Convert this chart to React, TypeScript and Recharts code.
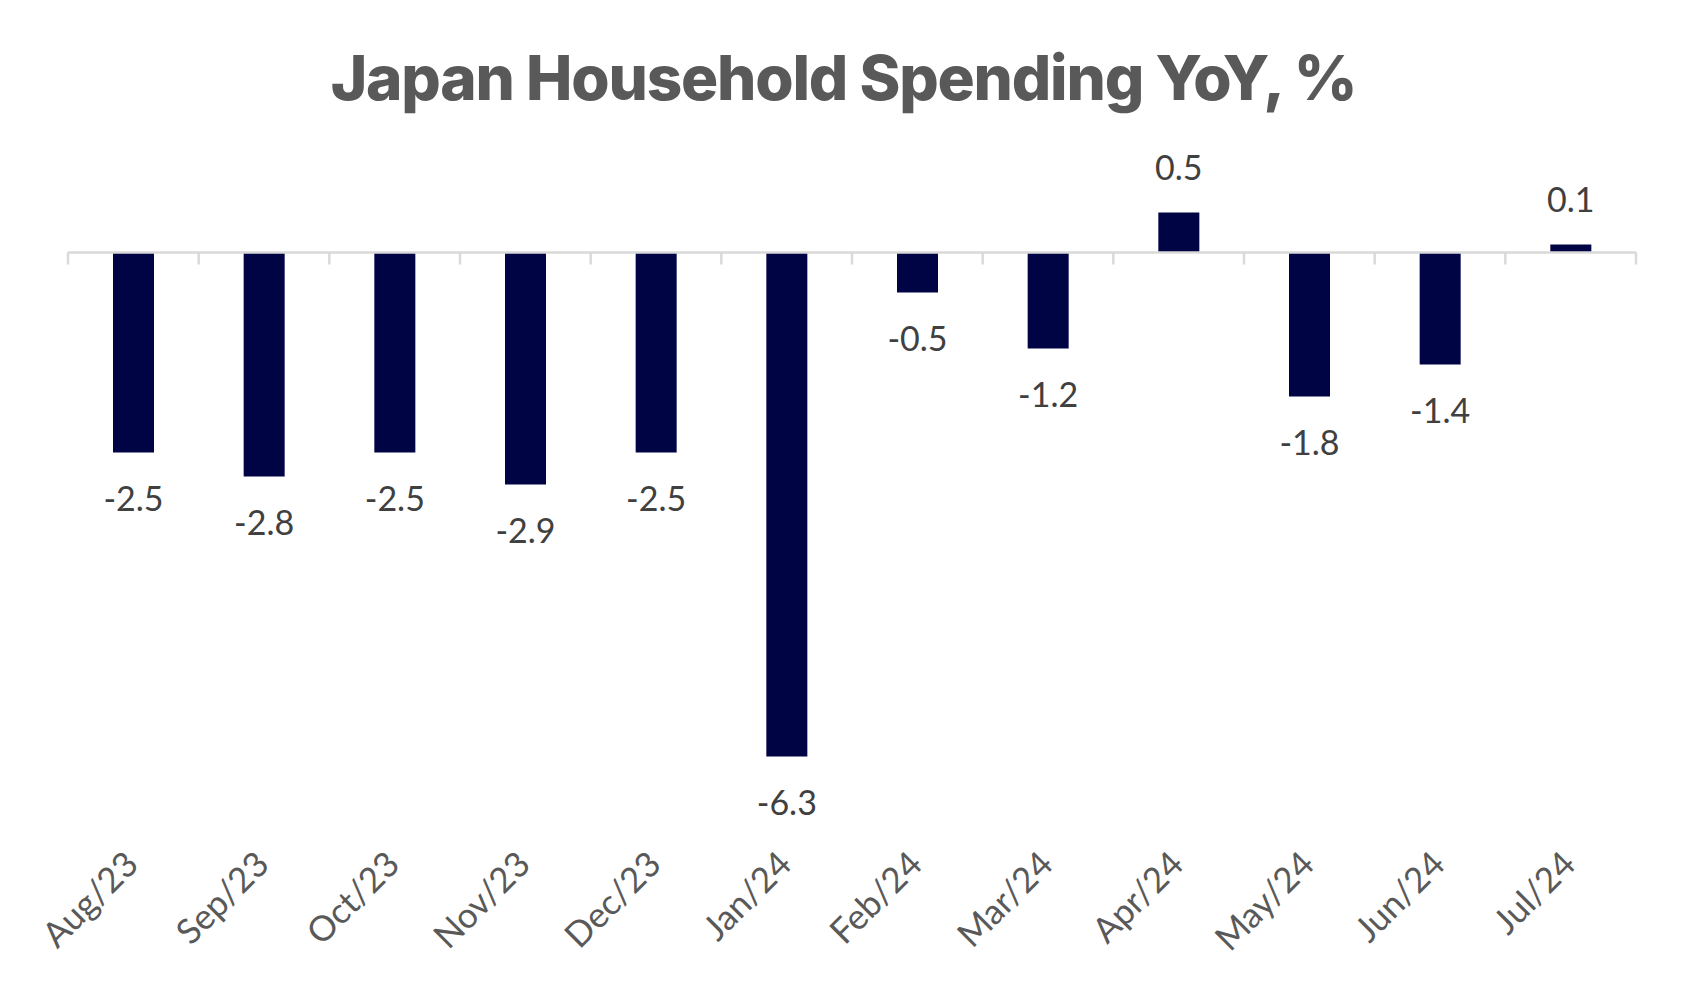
import React from "react";
import { BarChart, Bar, XAxis, YAxis, ReferenceLine, LabelList } from "recharts";

const months = ["Aug/23", "Sep/23", "Oct/23", "Nov/23", "Dec/23", "Jan/24", "Feb/24", "Mar/24", "Apr/24", "May/24", "Jun/24", "Jul/24"];
const values = [-2.5, -2.8, -2.5, -2.9, -2.5, -6.3, -0.5, -1.2, 0.5, -1.8, -1.4, 0.1];

const data = months.map((m, i) => ({ month: m, value: values[i] }));

const TITLE = "Japan Household Spending YoY, %";
const BAR_COLOR = "#000444";
const AXIS_COLOR = "#d9d9d9";
const LABEL_FONT = "Lato, 'Open Sans', sans-serif";

const MonthTick = (props: any) => {
  const { x, y, payload } = props;
  return (
    <g transform={`translate(${x + 7}, ${y + 14})`}>
      <text
        x={0}
        y={0}
        transform="rotate(-45)"
        textAnchor="end"
        fontFamily={LABEL_FONT}
        fontSize={35}
        fill="#595959"
      >
        {payload.value}
      </text>
    </g>
  );
};

const ValueLabel = (props: any) => {
  const { x, y, width, height, value } = props;
  const cx = x + width / 2;
  const neg = value < 0;
  const top = Math.min(y, y + height);
  const bottom = Math.max(y, y + height);
  const ty = neg ? bottom + 58 : top - 33;
  return (
    <text x={cx} y={ty} textAnchor="middle" fontFamily={LABEL_FONT} fontSize={34} fill="#404040">
      {value.toFixed(1)}
    </text>
  );
};

// zero axis line with category-boundary tick marks, from the line's computed endpoints
const ZeroAxis = (props: any) => {
  const { x1, y1, x2 } = props;
  const n = months.length;
  const step = (x2 - x1) / n;
  const ticks = [];
  for (let i = 0; i <= n; i++) {
    const tx = x1 + step * i;
    ticks.push(<line key={i} x1={tx} x2={tx} y1={y1} y2={y1 + 12} stroke={AXIS_COLOR} strokeWidth={2.5} />);
  }
  return (
    <g>
      <line x1={x1} x2={x2} y1={y1} y2={y1} stroke={AXIS_COLOR} strokeWidth={2.5} />
      {ticks}
    </g>
  );
};

export default function App() {
  return (
    <div style={{ position: "absolute", left: 0, top: 0, width: 1691, height: 1003, background: "#fff" }}>
      <div
        style={{
          position: "absolute",
          left: 0,
          top: 0,
          width: 1691,
          textAlign: "center",
          fontFamily: "Inter, sans-serif",
          fontWeight: 800,
          fontSize: 62,
          letterSpacing: -1.2,
          color: "#595959",
          lineHeight: "62px",
          paddingTop: 47,
          marginLeft: -2,
        }}
      >
        {TITLE}
      </div>
      <BarChart
        width={1691}
        height={1003}
        data={data}
        margin={{ top: 132.5, right: 55, bottom: 0, left: 68 }}
        barSize={41}
      >
        <XAxis
          dataKey="month"
          axisLine={false}
          tickLine={false}
          tickSize={0}
          tickMargin={0}
          height={150.5}
          interval={0}
          tick={<MonthTick />}
        />
        <YAxis hide domain={[-7.5, 1.5]} allowDataOverflow />
        <ReferenceLine y={0} shape={(p: any) => <ZeroAxis {...p} />} />
        <Bar dataKey="value" fill={BAR_COLOR} isAnimationActive={false}>
          <LabelList dataKey="value" content={<ValueLabel />} />
        </Bar>
      </BarChart>
    </div>
  );
}
